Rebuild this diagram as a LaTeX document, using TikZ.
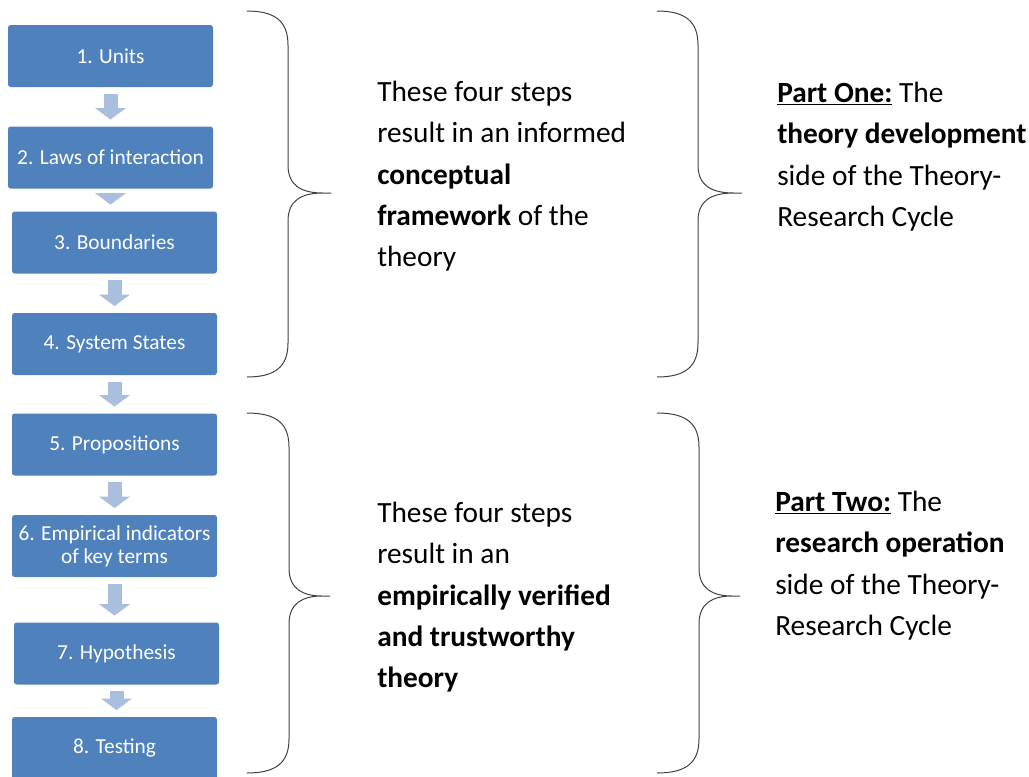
\documentclass[tikz,border=0pt]{standalone}
\usepackage{fontspec}
\setmainfont{Carlito}
\usetikzlibrary{arrows.meta}
\definecolor{boxblue}{RGB}{79,129,189}
\definecolor{arrowblue}{RGB}{170,190,221}
\definecolor{bracegray}{RGB}{64,64,64}
\begin{document}
\begin{tikzpicture}[x=0.75pt,y=-0.75pt,
  stepbox/.style={rectangle, rounded corners=2pt, fill=boxblue, text=white, minimum width=153.75pt, minimum height=46.5pt, inner sep=2pt, align=center, font=\fontsize{16}{17}\selectfont},
  flow/.style={draw=arrowblue, line width=10.5pt, -{Triangle[length=8.5pt,width=22.5pt]}, shorten <=5pt, shorten >=5pt},
  curly/.style={draw=bracegray, line width=0.75pt},
  note/.style={anchor=north west, inner sep=0pt, align=left, font=\fontsize{22}{31}\selectfont}]
\useasboundingbox (0,0) rectangle (1029,776);

% Steps
\node[stepbox] (units) at (110.5,56) {1. Units};
\node[stepbox] (laws) at (110.5,157.5) {2. Laws of interaction};
\node[stepbox] (bounds) at (114.5,242.5) {3. Boundaries};
\node[stepbox] (states) at (114.5,344) {4. System States};
\node[stepbox] (props) at (114.5,444.5) {5. Propositions};
\node[stepbox] (indic) at (114.5,546) {6. Empirical indicators\\of key terms};
\node[stepbox] (hypo) at (116.5,653.5) {7. Hypothesis};
\node[stepbox] (testing) at (114.5,748) {8. Testing};

% Arrows between steps
\draw[flow] (units.south) -- (units.south |- laws.north);
\draw[flow] (laws.south) -- (laws.south |- bounds.north);
\draw[flow] (bounds.south) -- (bounds.south |- states.north);
\draw[flow] (states.south) -- (states.south |- props.north);
\draw[flow] (props.south) -- (props.south |- indic.north);
\draw[flow] (indic.south) -- (indic.south |- hypo.north);
\draw[flow] (hypo.south) -- (hypo.south |- testing.north);

% Braces
\draw[curly] (247,11) .. controls (276,11) and (288,22) .. (288,45) -- (288,165) .. controls (288,186) and (302,193) .. (323,193) -- (331,193) -- (323,193) .. controls (302,193) and (288,200) .. (288,221) -- (288,343) .. controls (288,366) and (276,377) .. (247,377);
\draw[curly] (657,11) .. controls (686,11) and (698,22) .. (698,45) -- (698,165) .. controls (698,186) and (712,193) .. (734,193) -- (742,193) -- (734,193) .. controls (712,193) and (698,200) .. (698,221) -- (698,343) .. controls (698,366) and (686,377) .. (657,377);
\draw[curly] (247,413) .. controls (277,413) and (289,424) .. (289,447) -- (289,568) .. controls (289,589) and (303,596) .. (322,596) -- (330,596) -- (322,596) .. controls (303,596) and (289,603) .. (289,624) -- (289,739) .. controls (289,762) and (277,773) .. (247,773);
\draw[curly] (657,413) .. controls (687,413) and (699,424) .. (699,447) -- (699,568) .. controls (699,589) and (713,596) .. (732,596) -- (740,596) -- (732,596) .. controls (713,596) and (699,603) .. (699,624) -- (699,739) .. controls (699,762) and (687,773) .. (657,773);

% Texts
\node[note] (stepsA) at (377,81) {These four steps\\result in an informed\\\textbf{conceptual}\\\textbf{framework} of the\\theory};
\node[note] (partA) at (777,82) {\underline{\textbf{Part One:}} The\\\textbf{theory development}\\side of the Theory-\\Research Cycle};
\node[note] (stepsB) at (377,502) {These four steps\\result in an\\\textbf{empirically verified}\\\textbf{and trustworthy}\\\textbf{theory}};
\node[note] (partB) at (775,491) {\underline{\textbf{Part Two:}} The\\\textbf{research operation}\\side of the Theory-\\Research Cycle};
\end{tikzpicture}
\end{document}
